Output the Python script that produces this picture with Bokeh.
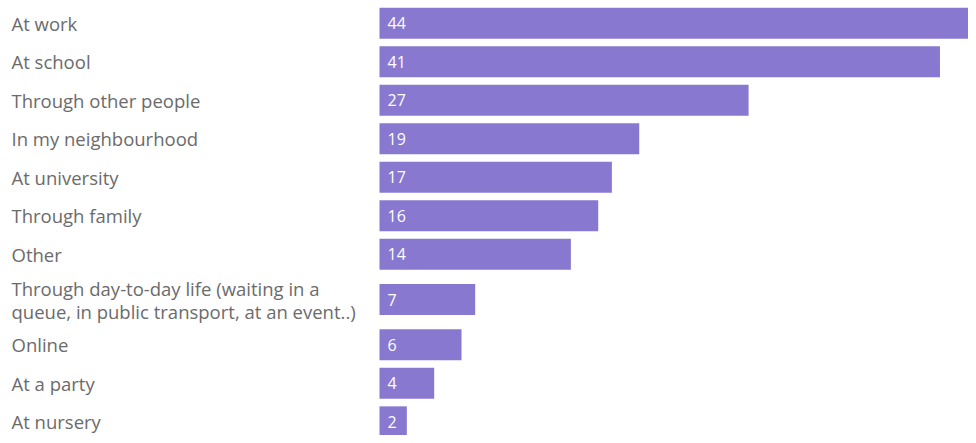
from bokeh.plotting import figure
from bokeh.models import Range1d, ColumnDataSource
from bokeh.core.properties import value
from bokeh.embed import file_html
from bokeh.resources import INLINE

categories = [
    "At work",
    "At school",
    "Through other people",
    "In my neighbourhood",
    "At university",
    "Through family",
    "Other",
    "Through day-to-day life (waiting in a\nqueue, in public transport, at an event..)",
    "Online",
    "At a party",
    "At nursery",
]
values = [44, 41, 27, 19, 17, 16, 14, 7, 6, 4, 2]

W, H = 968, 435
PX_PER_UNIT = 13.67
BAR_LEFT = 379          # px from figure left where value 0 sits
PITCH = 38.5
EXTRA = 13.7            # extra room per additional label line
TOP = 3.4

# row centres (in px from top of figure), computed from label line counts
ys = []
cur = TOP
for c in categories:
    lines = c.count("\n") + 1
    h = PITCH + EXTRA * (lines - 1)
    ys.append(cur + h / 2)
    cur += h

x_start = -BAR_LEFT / PX_PER_UNIT
x_end = x_start + W / PX_PER_UNIT

src = ColumnDataSource(dict(
    cat=categories,
    val=values,
    y=ys,
    txt=[str(v) for v in values],
    lx=[x_start + 11 / PX_PER_UNIT] * len(values),
    vx=[8 / PX_PER_UNIT] * len(values),
))

p = figure(width=W, height=H, output_backend="svg", toolbar_location=None,
           x_range=Range1d(x_start, x_end), y_range=Range1d(H, 0),
           min_border=0, min_border_left=0, min_border_right=0,
           min_border_top=0, min_border_bottom=0)
p.axis.visible = False
p.grid.visible = False
p.outline_line_color = None
p.background_fill_color = "white"
p.border_fill_color = "white"

p.hbar(y="y", left=0, right="val", height=31, source=src,
       fill_color="#8878d0", line_color=None)

p.text(x="lx", y="y", text="cat", source=src,
       text_font=value("Open Sans"), text_font_size="18.5px", text_color="#6b6b6b",
       text_align="left", text_baseline="middle", text_line_height=0.92)

p.text(x="vx", y="y", text="txt", source=src,
       text_font=value("Open Sans"), text_font_size="16px", text_color="#ffffff",
       text_align="left", text_baseline="middle")

open("out.html", "w").write(file_html(p, INLINE))
